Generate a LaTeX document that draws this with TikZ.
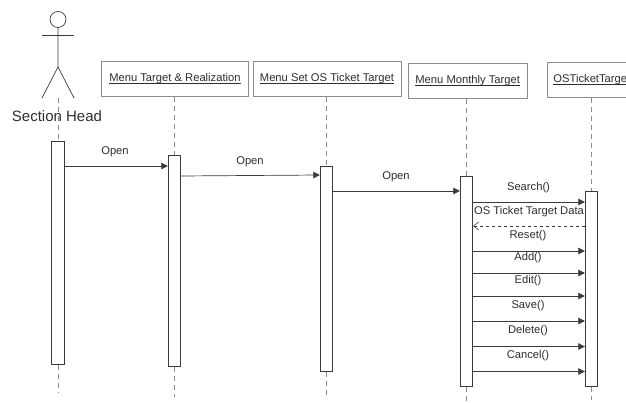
\documentclass[tikz,border=0pt]{standalone}
\usepackage{fontspec}
\setmainfont{Liberation Sans}
\usetikzlibrary{arrows.meta,calc}
\definecolor{ink}{HTML}{3A3A3A}
\definecolor{soft}{HTML}{8C8C8C}
\definecolor{txt}{HTML}{2E2E2E}
\newcommand{\ulbl}[1]{\setbox0=\hbox{#1}\rlap{\rule[-1.7pt]{\wd0}{0.6pt}}\box0}
\tikzset{
  objbox/.style={draw=soft,line width=0.9pt,fill=white,minimum height=35pt,inner sep=0pt,text=txt,font=\fontsize{11.2}{13}\selectfont},
  act/.style={draw=ink,line width=0.8pt,fill=white,minimum width=12.5pt,inner sep=0pt},
  life/.style={draw=soft,line width=0.8pt,dash pattern=on 5pt off 4pt},
  msg/.style={draw=ink,line width=0.7pt,-{Triangle[length=6.5pt,width=6.5pt]}},
  ret/.style={draw=ink,line width=0.6pt,dashed,-{Straight Barb[length=5pt,width=8pt]}},
  lbl/.style={text=txt,font=\fontsize{11.2}{13}\selectfont,inner sep=0pt},
  stick/.style={draw=ink,line width=0.7pt},
}
\begin{document}
\begin{tikzpicture}[x=1pt,y=-1pt]
\useasboundingbox (0,0) rectangle (626,403);
\clip (0,0) rectangle (626,403);
% object boxes
\node[objbox,minimum width=147pt,anchor=north west] (b1) at (101,61) {\ulbl{Menu Target \& Realization}};
\node[objbox,minimum width=148pt,anchor=north west] (b2) at (252.5,61) {\ulbl{Menu Set OS Ticket Target}};
\node[objbox,minimum width=119.5pt,anchor=north west] (b3) at (407.5,63) {\ulbl{Menu Monthly Target}};
\node[objbox,minimum width=100pt,anchor=north west,text width=88pt,align=left] (b4) at (547,62) {\ulbl{OSTicketTarget}};
% actor
\node[draw=ink,line width=0.7pt,circle,minimum size=16pt,inner sep=0pt] (head) at (58,19.5) {};
\coordinate (neck) at (58,35);
\coordinate (hip) at (58,67);
\coordinate (armL) at (42,35);
\coordinate (armR) at (74,35);
\coordinate (legL) at (42,98);
\coordinate (legR) at (74,98);
\draw[stick] (head.south) -- (hip) -- (legL);
\draw[stick] (hip) -- (legR);
\draw[stick] (armL) -- (armR);
% activation bars
\node[act,minimum height=223pt,anchor=north] (a0) at (58,141) {};
\node[act,minimum height=211pt,anchor=north] (a1) at (174.5,155) {};
\node[act,minimum height=205pt,anchor=north] (a2) at (326.5,166) {};
\node[act,minimum height=210pt,anchor=north] (a3) at (466.5,176) {};
\node[act,minimum height=195pt,anchor=north] (a4) at (591.5,191) {};
% end points of lifelines
\coordinate (e0) at (58,392);
\coordinate (e1) at (174.5,397);
\coordinate (e2) at (326.5,397);
\coordinate (e3) at (466.5,403);
\coordinate (e4) at (591.5,400);
\coordinate (s0) at (58,98);
% lifelines
\draw[life] (s0) -- (a0.north);
\draw[life] (a0.south) -- (e0);
\draw[life] (b1.south -| a1.north) -- (a1.north);
\draw[life] (a1.south) -- (e1);
\draw[life] (b2.south -| a2.north) -- (a2.north);
\draw[life] (a2.south) -- (e2);
\draw[life] (b3.south -| a3.north) -- (a3.north);
\draw[life] (a3.south) -- (e3);
\draw[life] (b4.south -| a4.north) -- (a4.north);
\draw[life] (a4.south) -- (e4);
\node[font=\fontsize{15}{17}\selectfont,text=txt,inner sep=0pt] (actorname) at (57,116) {Section Head};
% messages
\draw[msg] (a0.east |- 0,166) -- (a1.west |- 0,166);
\draw[msg] (a1.east |- 0,176) -- (a2.west |- 0,175);
\draw[msg] (a2.east |- 0,191) -- (a3.west |- 0,191);
\draw[msg] (a3.east |- 0,202) -- (a4.west |- 0,202);
\draw[ret] (a4.west |- 0,226) -- (a3.east |- 0,226);
\draw[msg] (a3.east |- 0,251) -- (a4.west |- 0,251);
\draw[msg] (a3.east |- 0,273) -- (a4.west |- 0,273);
\draw[msg] (a3.east |- 0,296) -- (a4.west |- 0,296);
\draw[msg] (a3.east |- 0,321) -- (a4.west |- 0,321);
\draw[msg] (a3.east |- 0,346.5) -- (a4.west |- 0,346.5);
\draw[msg] (a3.east |- 0,371.5) -- (a4.west |- 0,371.5);
% labels
\node[lbl] (l1) at (115,151.5) {Open};
\node[lbl] (l2) at (250,161.5) {Open};
\node[lbl] (l3) at (396,176.5) {Open};
\node[lbl] (l4) at (528.5,187.5) {Search()};
\node[lbl] (l5) at (529,211.5) {OS Ticket Target Data};
\node[lbl] (l6) at (528,235.5) {Reset()};
\node[lbl] (l7) at (528,258) {Add()};
\node[lbl] (l8) at (528,281) {Edit()};
\node[lbl] (l9) at (528,306) {Save()};
\node[lbl] (l10) at (528,331) {Delete()};
\node[lbl] (l11) at (528,356) {Cancel()};
\end{tikzpicture}
\end{document}
